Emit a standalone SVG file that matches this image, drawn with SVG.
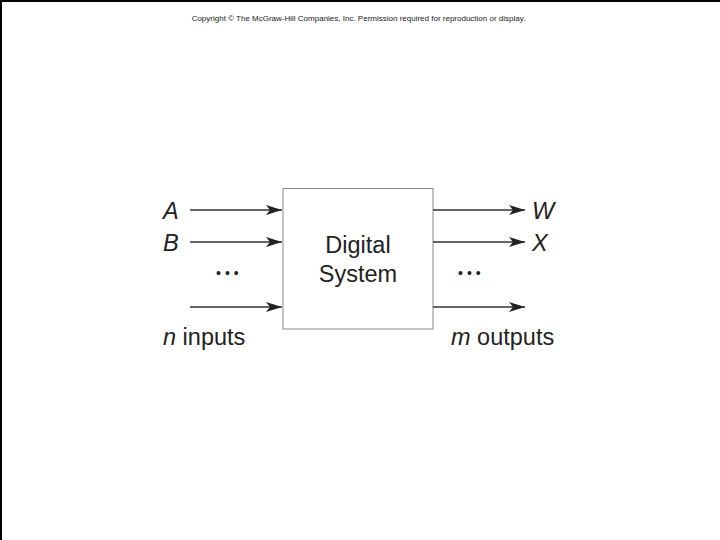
<svg xmlns="http://www.w3.org/2000/svg" width="720" height="540" viewBox="0 0 720 540">
<style>
.t{font-family:"Liberation Sans",Arial,sans-serif;fill:#222}
.i{font-style:italic}
.ln{stroke:#333;stroke-width:1.3;fill:none}
.d{font-size:14px;letter-spacing:4px}
</style>
<defs>
<marker id="ah" markerUnits="userSpaceOnUse" markerWidth="20" markerHeight="14" refX="16" refY="7" orient="auto">
<path d="M0,2 L16,7 L0,12 L4,7 Z" fill="#222"/>
</marker>
</defs>
<rect x="0" y="0" width="720" height="540" fill="#fff"/>
<path d="M1,540 V1 H720" stroke="#000" stroke-width="2" fill="none"/>
<text class="t" x="358.5" y="21" font-size="8" text-anchor="middle" fill="#333">Copyright © The McGraw-Hill Companies, Inc. Permission required for reproduction or display.</text>
<g id="system">
<rect x="283" y="188.5" width="150" height="140.5" fill="#fff" stroke="#888" stroke-width="1"/>
<text class="t" x="358" y="253" font-size="23.5" text-anchor="middle">Digital</text>
<text class="t" x="358" y="282" font-size="23.5" text-anchor="middle">System</text>
</g>
<g id="connectors">
<line class="ln" x1="190" y1="210" x2="282" y2="210" marker-end="url(#ah)"/>
<line class="ln" x1="190" y1="242" x2="282" y2="242" marker-end="url(#ah)"/>
<line class="ln" x1="190" y1="307" x2="282" y2="307" marker-end="url(#ah)"/>
<line class="ln" x1="433" y1="210" x2="525" y2="210" marker-end="url(#ah)"/>
<line class="ln" x1="433" y1="242" x2="525" y2="242" marker-end="url(#ah)"/>
<line class="ln" x1="433" y1="307" x2="525" y2="307" marker-end="url(#ah)"/>
</g>
<g id="inputs">
<text class="t i" x="163" y="219" font-size="23.5">A</text>
<text class="t i" x="163" y="251" font-size="23.5">B</text>
<text class="t d" x="216" y="278">•••</text>
<text class="t" x="163" y="345" font-size="23.5"><tspan class="i">n</tspan> inputs</text>
</g>
<g id="outputs">
<text class="t i" x="532" y="219" font-size="23.5">W</text>
<text class="t i" x="532" y="251" font-size="23.5">X</text>
<text class="t d" x="458" y="278">•••</text>
<text class="t" x="451" y="345" font-size="23.5"><tspan class="i">m</tspan> outputs</text>
</g>
</svg>
